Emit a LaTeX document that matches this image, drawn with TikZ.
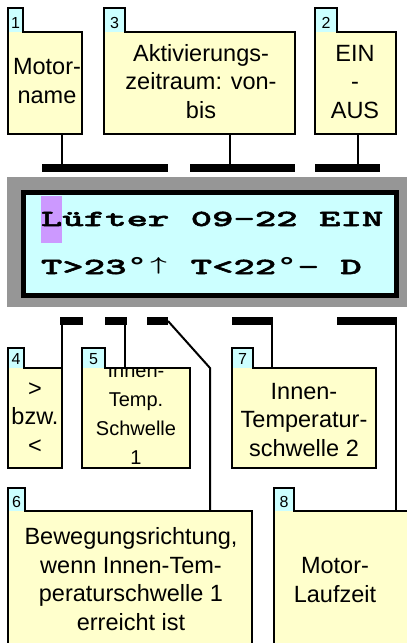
\documentclass[tikz,border=0pt]{standalone}
\usepackage{fontspec}
\setmainfont{Liberation Sans}
\newfontfamily\lcdfont{lmmonolt10-bold.otf}[FakeStretch=1.772, FakeBold=2.2]
\newfontfamily\degfont{DejaVu Sans Mono Bold}
\definecolor{noteyellow}{HTML}{FFFFCC}
\definecolor{tabcyan}{HTML}{CCFFFF}
\definecolor{lcdcyan}{HTML}{CCFFFF}
\definecolor{framegrey}{HTML}{969696}
\definecolor{cursorpurple}{HTML}{CC99FF}
\tikzset{
  bodyfill/.style={fill=noteyellow, draw=none, inner sep=0pt, outer sep=0pt},
  tabfill/.style={fill=tabcyan, draw=none, inner sep=0pt, outer sep=0pt},
  outline/.style={draw=black, line width=2.7pt, line join=miter},
  numlabel/.style={inner sep=0pt, anchor=base, font=\fontsize{16}{16}\selectfont},
  boxtext/.style={inner sep=0pt, anchor=base, align=center, font=\fontsize{23.5}{28.5}\selectfont},
  smalltext/.style={boxtext, font=\fontsize{20}{28.7}\selectfont},
  barbox/.style={fill=black, inner sep=0pt, outer sep=0pt, minimum height=8pt},
  conn/.style={draw=black, line width=2pt},
  lcdline/.style={inner sep=0pt, outer sep=0pt, anchor=base west, font=\lcdfont\fontsize{23}{23}\selectfont},
}
\newcommand\lcdup{\makebox[21.37pt]{\raisebox{3.3pt}{\scalebox{1.15}[0.75]{\boldmath$\uparrow$}}}}
\newcommand\lcddeg{\makebox[21.37pt]{\scalebox{1.45}[1]{\degfont\fontsize{23}{23}\selectfont °}}}
% #1 name, #2 left, #3 tab top, #4 tab right, #5 body top, #6 right, #7 bottom, #8 number
\newcommand\notebox[8]{%
  \node[bodyfill, minimum width={(#6-#2)*1pt}, minimum height={(#7-#5)*1pt}] (#1) at ({(#2+#6)/2},{(#5+#7)/2}) {};
  \node[tabfill, minimum width={(#4-#2)*1pt}, minimum height={(#5-#3)*1pt}] (#1t) at ({(#2+#4)/2},{(#3+#5)/2}) {};
  \node[numlabel] (#1n) at ({(#2+#4)/2},{#5-4}) {#8};
}
\newcommand\noteoutline[1]{%
  \draw[outline] (#1.south west) -- (#1t.north west) -- (#1t.north east) -- (#1t.south east) -- (#1.north east) -- (#1.south east) -- cycle;
}
% text anchored at the baseline of its last line
\newcommand\notetext[5]{%
  \begin{scope}
    \clip (#1.south west) rectangle (#1.north east);
    \node[#2] (#1x) at (#3,#4) {#5};
  \end{scope}
}
\newcommand\blackbar[4]{% name, x1, x2, y center
  \node[barbox, minimum width={(#3-#2)*1pt}] (#1) at ({(#2+#3)/2},#4) {};
}
\begin{document}
\begin{tikzpicture}[x=1pt,y=-1pt]
\useasboundingbox (0,0) rectangle (407,643);

% display
\path[fill=framegrey] (7,177) rectangle (413,307);
\node[fill=black, inner sep=0pt, outer sep=0pt, minimum width=378pt, minimum height=108pt] (lcdframe) at (210,244) {};
\node[fill=lcdcyan, inner sep=0pt, outer sep=0pt, minimum width=368pt, minimum height=98pt] (lcd) at (210,244) {};
\node[fill=cursorpurple, inner sep=0pt, outer sep=0pt, minimum width=21pt, minimum height=47pt] (cursor) at (51.5,219.5) {};
\node[lcdline] (line1) at (41,226) {Lüfter 09-22 EIN};
\node[lcdline] (line2) at (41,274) {T>23\lcddeg\lcdup{} T<22\lcddeg- D};

% top boxes
\notebox{b1}{8}{8}{23}{32}{82}{134}{1}
\notebox{b3}{104}{8}{125}{32}{295}{134}{3}
\notebox{b2}{315}{8}{337}{32}{396}{134}{2}
\notetext{b1}{boxtext}{47}{103}{Motor-\\name}
\notetext{b3}{boxtext}{201}{118}{Aktivierungs-\\zeitraum: von-\\bis}
\notetext{b2}{boxtext}{355}{118}{EIN\\-\\AUS}
\noteoutline{b1}
\noteoutline{b3}
\noteoutline{b2}

% top bars and stems
\blackbar{tb1}{42}{168}{168}
\blackbar{tb2}{190}{295}{168}
\blackbar{tb3}{315}{380}{168}
\coordinate (s1) at (62,134);
\coordinate (s3) at (230,134);
\coordinate (s2) at (358,134);
\draw[conn] (s1) -- (s1 |- tb1.north);
\draw[conn] (s3) -- (s3 |- tb2.north);
\draw[conn] (s2) -- (s2 |- tb3.north);

% bottom boxes
\notebox{b4}{8}{348}{24}{368}{62}{468}{4}
\notebox{b5}{82}{348}{105}{368}{190}{468}{5}
\notebox{b7}{232}{348}{253}{368}{376}{468}{7}
\notebox{b6}{8}{488}{25}{511}{252}{670}{6}
\notebox{b8}{274}{488}{294}{511}{430}{670}{8}
\notetext{b4}{boxtext}{35}{453}{>\\bzw.\\<}
\notetext{b5}{smalltext}{136}{464}{Innen-\\Temp.\\Schwelle\\1}
\notetext{b7}{boxtext}{304}{456}{Innen-\\Temperatur-\\schwelle 2}
\notetext{b6}{boxtext}{131}{630}{Bewegungsrichtung,\\wenn Innen-Tem-\\peraturschwelle 1\\erreicht ist}
\notetext{b8}{boxtext}{335}{602}{Motor-\\Laufzeit}
\noteoutline{b4}
\noteoutline{b5}
\noteoutline{b7}
\noteoutline{b6}
\noteoutline{b8}

% bottom bars and connectors
\blackbar{bb1}{60}{83}{321}
\blackbar{bb2}{105}{127}{321}
\blackbar{bb3}{147}{168}{321}
\blackbar{bb4}{232}{273}{321}
\blackbar{bb5}{337}{397}{321}
\coordinate (k6) at (210,368);
\coordinate (s5) at (125,368);
\coordinate (s7) at (272,368);
\coordinate (s8) at (396,511);
\draw[conn] (b4.north east) -- (b4.north east |- bb1.south);
\draw[conn] (s5) -- (s5 |- bb2.south);
\draw[conn] (bb3.east) -- (k6) -- (k6 |- b6.north);
\draw[conn] (s7) -- (s7 |- bb4.south);
\draw[conn] (s8) -- (s8 |- bb5.south);
\end{tikzpicture}
\end{document}
